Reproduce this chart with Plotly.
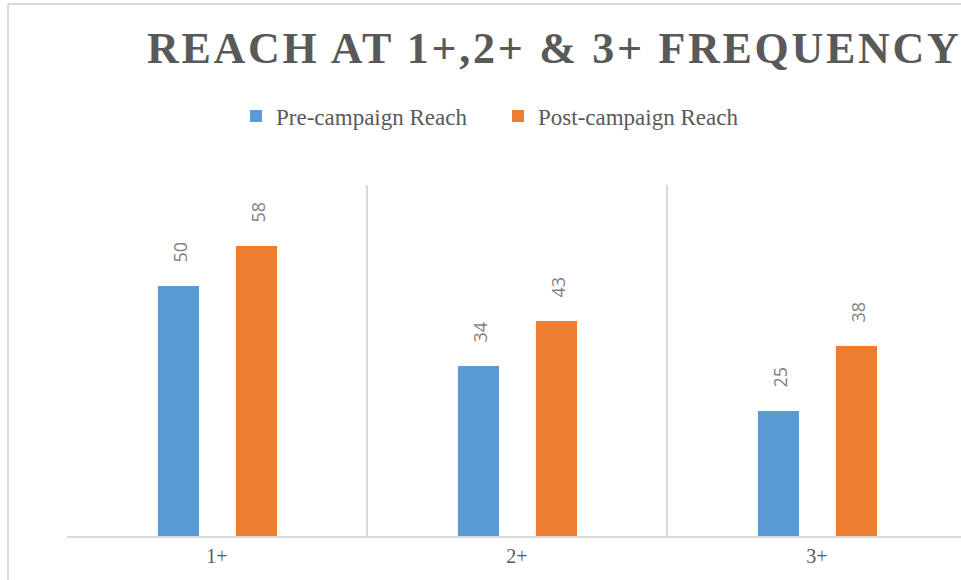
import plotly.graph_objects as go

categories = ["1+", "2+", "3+"]
pre_campaign = [50, 34, 25]
post_campaign = [58, 43, 38]
series_names = ["Pre-campaign Reach", "Post-campaign Reach"]
title_text = "REACH AT 1+,2+ & 3+ FREQUENCY"

W, H = 961, 580
L, R, T, B = 67, 0, 185, 44
pw = W - L - R
ph = H - T - B

def px_x(X):
    return (X - L) / pw

def px_y(Y):
    return (H - B - Y) / ph

BLUE = "#5b9bd5"
ORANGE = "#ed7d31"
GRID = "#d9d9d9"

fig = go.Figure()
fig.add_trace(go.Bar(
    x=categories, y=pre_campaign, name=series_names[0],
    marker=dict(color=BLUE, line=dict(width=0)),
    width=0.137, offset=-0.197,
))
fig.add_trace(go.Bar(
    x=categories, y=post_campaign, name=series_names[1],
    marker=dict(color=ORANGE, line=dict(width=0)),
    width=0.137, offset=0.063,
))

label_font = dict(family="Open Sans", size=18, color="#7f7f7f")
for vals, shift in ((pre_campaign, -38), (post_campaign, 40)):
    for c, v in zip(categories, vals):
        fig.add_annotation(
            x=c, y=v, text=str(v), showarrow=False, textangle=-90,
            xshift=shift, yshift=21, yanchor="bottom", xanchor="center",
            font=label_font,
        )

# outer chart border (left and top)
fig.add_shape(type="line", xref="paper", yref="paper",
              x0=px_x(8), x1=px_x(8), y0=px_y(4), y1=px_y(H + 5),
              line=dict(color=GRID, width=2))
fig.add_shape(type="line", xref="paper", yref="paper",
              x0=px_x(8), x1=px_x(W + 5), y0=px_y(4), y1=px_y(4),
              line=dict(color=GRID, width=2))

fig.update_layout(
    width=W, height=H,
    margin=dict(l=L, r=R, t=T, b=B),
    paper_bgcolor="white", plot_bgcolor="white",
    barmode="overlay",
    showlegend=True,
    title=dict(
        text=title_text, xref="container", yref="container",
        x=147 / W, xanchor="left", y=1 - 48 / H, yanchor="middle",
        font=dict(family="Liberation Serif", size=44, color="#595959", weight="bold"),
    ),
    legend=dict(
        orientation="h", x=px_x(236), xanchor="left", y=px_y(116), yanchor="middle",
        font=dict(family="Liberation Serif", size=23, color="#595959"),
        entrywidth=217, entrywidthmode="pixels",
        bgcolor="rgba(0,0,0,0)",
    ),
    xaxis=dict(
        type="category", range=[-0.5, 2.48],
        tickson="boundaries", showgrid=True, gridcolor=GRID, gridwidth=1.5,
        showline=True, linecolor=GRID, linewidth=2,
        ticks="", ticklabelstandoff=1,
        tickfont=dict(family="Liberation Serif", size=20, color="#595959"),
        fixedrange=True,
    ),
    yaxis=dict(
        range=[0, 70.2], showgrid=False, zeroline=False, showticklabels=False,
        showline=False, ticks="", fixedrange=True,
    ),
)

post = """
document.body.style.margin='0';
document.body.style.overflow='hidden';
var gd = document.getElementById('{plot_id}');
function spaceTitle(){
  var t = gd.querySelector('.gtitle');
  if (t) { t.style.letterSpacing = '2.7px'; }
}
spaceTitle();
if (gd.on) { gd.on('plotly_afterplot', spaceTitle); }
setTimeout(spaceTitle, 30);
"""

fig.write_html(
    "out.html",
    config={"displayModeBar": False},
    post_script=post,
)
